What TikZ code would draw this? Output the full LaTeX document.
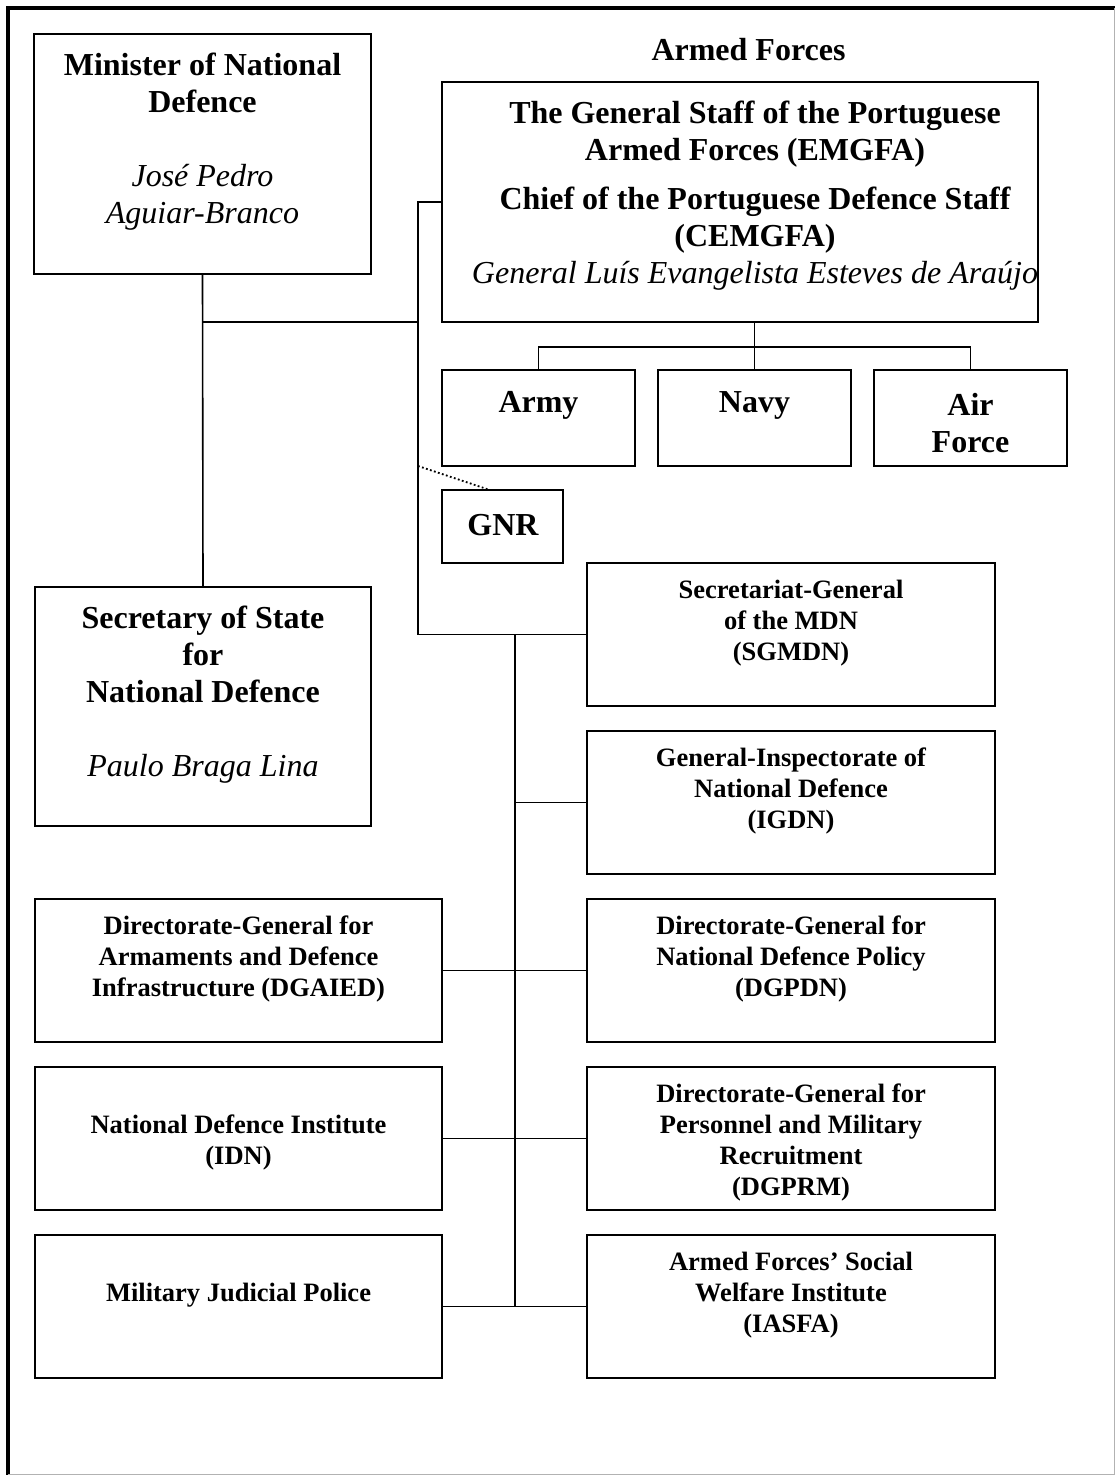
\documentclass[tikz,border=0pt]{standalone}
\usepackage{fontspec}
\setmainfont{Liberation Serif}[ItalicFont={Liberation Serif Italic}, BoldFont={Liberation Serif Bold}, BoldItalicFont={Liberation Serif Bold Italic}]
\newfontfamily\tnritalic{Liberation Serif Italic}
\begin{document}
\begin{tikzpicture}[x=1pt,y=-1pt,
  box/.style={draw=black, line width=1.6pt, rectangle, inner sep=0pt, fill=none},
  big/.style={inner sep=0pt, align=center, font=\fontsize{32}{37}\selectfont\bfseries},
  small/.style={inner sep=0pt, align=center, font=\fontsize{26.5}{31}\selectfont\bfseries},
  conn/.style={line width=1.6pt, line cap=rect},
  dotconn/.style={line width=1.8pt, dash pattern=on 1.8pt off 2.4pt}]
\useasboundingbox (0,0) rectangle (1115,1475);
% frame
\draw[line width=4pt] (8,1475) -- (8,8) -- (1115,8);
\draw[black!30, line width=1pt] (1114,8) -- (1114,1474) -- (8,1474);

% boxes
\node[box, minimum width=337pt, minimum height=240pt] (min) at (202.5,154) {};
\node[box, minimum width=336pt, minimum height=239pt] (sec) at (203,706.5) {};
\node[box, minimum width=596pt, minimum height=240pt] (emgfa) at (740,202) {};
\node[box, minimum width=193pt, minimum height=96pt] (army) at (538.5,418) {};
\node[box, minimum width=193pt, minimum height=96pt] (navy) at (754.5,418) {};
\node[box, minimum width=193pt, minimum height=96pt] (af) at (970.5,418) {};
\node[box, minimum width=121pt, minimum height=73pt] (gnr) at (502.5,526.5) {};
\node[box, minimum width=408pt, minimum height=143pt] (sgmdn) at (791,634.5) {};
\node[box, minimum width=408pt, minimum height=143pt] (igdn) at (791,802.5) {};
\node[box, minimum width=408pt, minimum height=143pt] (dgpdn) at (791,970.5) {};
\node[box, minimum width=408pt, minimum height=143pt] (dgprm) at (791,1138.5) {};
\node[box, minimum width=408pt, minimum height=143pt] (iasfa) at (791,1306.5) {};
\node[box, minimum width=407pt, minimum height=143pt] (dgaied) at (238.5,970.5) {};
\node[box, minimum width=407pt, minimum height=143pt] (idn) at (238.5,1138.5) {};
\node[box, minimum width=407pt, minimum height=143pt] (mjp) at (238.5,1306.5) {};

% texts
\node[big] (tarmed) at (748.5,50) {Armed Forces};
\node[big] (tmin) at (202.5,141.5) {Minister of National\\Defence\\[37pt]\mdseries\tnritalic José Pedro\\\mdseries\tnritalic Aguiar-Branco};
\node[big] (tsec) at (203,694.5) {Secretary of State\\for\\National Defence\\[37pt]\mdseries\tnritalic Paulo Braga Lina};
\node[big] (temgfa) at (755,196) {The General Staff of the Portuguese\\Armed Forces (EMGFA)\\[12pt]Chief of the Portuguese Defence Staff\\(CEMGFA)\\\mdseries\tnritalic General Luís Evangelista Esteves de Araújo};
\node[big] (tarmy) at (538.5,405) {Army};
\node[big] (tnavy) at (754.5,405) {Navy};
\node[big] (taf) at (970.5,423) {Air\\Force};
\node[big] (tgnr) at (503,525) {GNR};
\node[small] (tsgmdn) at (791,623) {Secretariat-General\\of the MDN\\(SGMDN)};
\node[small] (tigdn) at (791,791) {General-Inspectorate of\\National Defence\\(IGDN)};
\node[small] (tdgpdn) at (791,959) {Directorate-General for\\National Defence Policy\\(DGPDN)};
\node[small] (tdgprm) at (791,1142.5) {Directorate-General for\\Personnel and Military\\Recruitment\\(DGPRM)};
\node[small] (tiasfa) at (791,1295) {Armed Forces’ Social\\Welfare Institute\\(IASFA)};
\node[small] (tdgaied) at (238.5,959) {Directorate-General for\\Armaments and Defence\\Infrastructure (DGAIED)};
\node[small] (tidn) at (238.5,1142.5) {National Defence Institute\\(IDN)};
\node[small] (tmjp) at (238.5,1295) {Military Judicial Police};

% connector coordinates
\coordinate (j1) at (418,322);
\coordinate (bt) at (418,202);
\coordinate (bb) at (418,634.5);
\coordinate (dot) at (418,466);
\coordinate (bus) at (515,634.5);
\coordinate (busend) at (515,1306.5);
\coordinate (svc) at (754.5,347);

% connectors
\draw[conn] (min.south) -- (sec.north);
\draw[conn] (min.south |- j1) -- (j1);
\draw[conn] (emgfa.west |- bt) -- (bt) -- (bb) -- (sgmdn.west);
\draw[dotconn] (dot) -- ([xshift=-15pt]gnr.north);
\draw[conn] (navy.north) -- (navy.north |- emgfa.south);
\draw[conn] (army.north) |- (svc) -| (af.north);
\draw[conn] (bus) -- (busend);
\draw[conn] (bus |- igdn.west) -- (igdn.west);
\draw[conn] (dgaied.east) -- (dgpdn.west);
\draw[conn] (idn.east) -- (dgprm.west);
\draw[conn] (mjp.east) -- (iasfa.west);
\end{tikzpicture}
\end{document}
